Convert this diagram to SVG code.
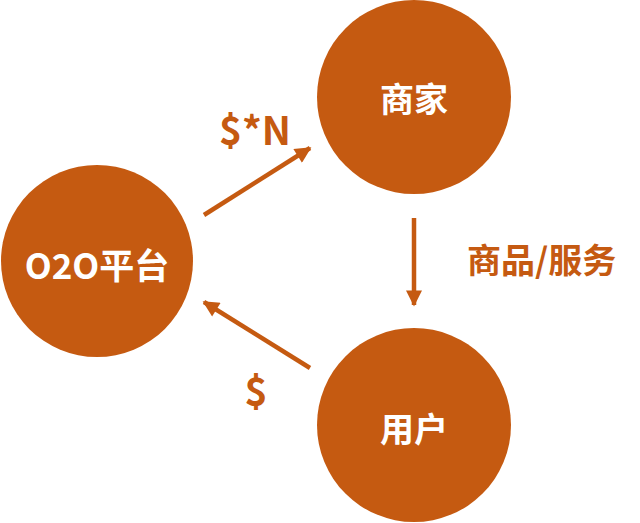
<svg xmlns="http://www.w3.org/2000/svg" width="640" height="523" viewBox="0 0 640 523">
<defs>
<style>
.node{fill:#C55A11;}
.nt{fill:#FFFFFF;font-family:"Noto Sans CJK SC","Noto Sans",sans-serif;font-weight:700;font-size:34px;text-anchor:middle;dominant-baseline:central;}
.lbl{fill:#C55A11;font-family:"Noto Sans CJK SC","Noto Sans",sans-serif;font-weight:700;font-size:34px;dominant-baseline:central;}
.money{font-size:39px;text-anchor:middle;}
.edge{stroke:#C55A11;stroke-width:4.5;fill:none;marker-end:url(#ah);}
</style>
<marker id="ah" viewBox="0 0 10 10" refX="9" refY="5" markerWidth="4" markerHeight="3.6" orient="auto" markerUnits="strokeWidth">
<path d="M0,0 L10,5 L0,10 z" fill="#C55A11"/>
</marker>
</defs>
<rect width="640" height="523" fill="#FFFFFF"/>
<g id="node-o2o">
<circle class="node" cx="97" cy="261" r="96"/>
<text class="nt" x="97" y="263" style="font-size:35px">O2O平台</text>
</g>
<g id="node-merchant">
<circle class="node" cx="414" cy="97" r="97"/>
<text class="nt" x="414" y="97">商家</text>
</g>
<g id="node-user">
<circle class="node" cx="414" cy="425" r="97"/>
<text class="nt" x="414" y="427">用户</text>
</g>
<g id="connectors">
<line class="edge" x1="204" y1="215" x2="310" y2="148"/>
<line class="edge" x1="414" y1="218" x2="414" y2="305"/>
<line class="edge" x1="310" y1="368" x2="204" y2="302"/>
</g>
<g id="labels">
<text class="lbl money" x="255" y="128">$*N</text>
<text class="lbl" x="467" y="258">商品/服务</text>
<text class="lbl money" x="256" y="389">$</text>
</g>
</svg>
